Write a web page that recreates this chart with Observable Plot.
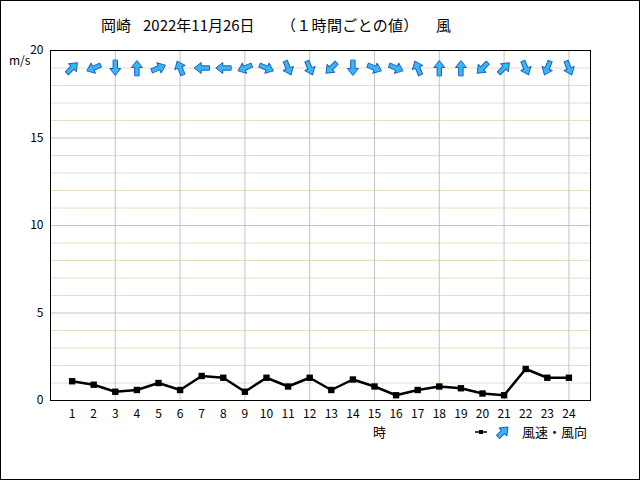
<!DOCTYPE html>
<html><head><meta charset="utf-8">
<script src="https://cdn.jsdelivr.net/npm/d3@7"></script>
<script src="https://cdn.jsdelivr.net/npm/@observablehq/plot@0.6"></script>
<style>
body{margin:0;background:#fff;}
#wrap{position:relative;width:640px;height:480px;overflow:hidden;font-family:"Noto Sans CJK JP",sans-serif;background:#fff;}
#border{position:absolute;left:0;top:0;width:640px;height:480px;box-sizing:border-box;border:1px solid #000;pointer-events:none;}
.lbl{position:absolute;white-space:pre;color:#000;line-height:1;}
.t{top:17px;font-size:15px;}
#chart{position:absolute;left:0;top:0;}
</style></head><body>
<div id="wrap">
  <div id="chart"></div>
  <div class="lbl t" id="title0" style="left:101px;"></div>
  <div class="lbl t" id="title1" style="left:143px;"></div>
  <div class="lbl t" id="title2" style="left:281px;letter-spacing:0.3px;"></div>
  <div class="lbl t" id="title3" style="left:436px;"></div>
  <div class="lbl" id="unit" style="left:9px;top:54px;font-size:12px;"></div>
  <div class="lbl" id="xlabel" style="left:373px;top:425px;font-size:13px;"></div>
  <svg style="position:absolute;left:470px;top:422px;" width="50" height="20">
    <line x1="5" y1="10" x2="17" y2="10" stroke="#000" stroke-width="1.5"/>
    <rect x="9" y="8" width="4" height="4" fill="#000"/>
    <path id="legArrow" fill="#38b6f2" stroke="#1a5fc8" stroke-width="1" stroke-linejoin="round"/>
  </svg>
  <div class="lbl" id="legend" style="left:522px;top:425px;font-size:13px;"></div>
  <div id="border"></div>
</div>
<script>
const titleParts = ["岡崎", "2022年11月26日", "（１時間ごとの値）", "風"];
const unitText = "m/s";
const xLabelText = "時";
const legendText = "風速・風向";

const hours = [1,2,3,4,5,6,7,8,9,10,11,12,13,14,15,16,17,18,19,20,21,22,23,24];
const speeds = [1.1,0.9,0.5,0.6,1.0,0.6,1.4,1.3,0.5,1.3,0.8,1.3,0.6,1.2,0.8,0.3,0.6,0.8,0.7,0.4,0.3,1.8,1.3,1.3];
// direction the arrow points, degrees clockwise from north
const directions = [45,247.5,180,0,67.5,337.5,270,270,247.5,112.5,157.5,157.5,225,180,112.5,112.5,337.5,0,0,225,45,157.5,202.5,157.5];
const yTicks = [0,5,10,15,20];
const majorY = [5,10,15];
const minorY = [1,2,3,4,6,7,8,9,11,12,13,14,16,17,18,19];
const majorX = [3,6,9,12,15,18,21,24];
const arrowRow = 19;

const data = hours.map((h,i)=>({hour:h, speed:speeds[i], dir:directions[i]}));

function arrowPath(ctx, l){
  const hw = 2.2, hh = 5.5, hl = 7;
  ctx.moveTo(-hw, 0);
  ctx.lineTo(-hw, -l + hl);
  ctx.lineTo(-hh, -l + hl);
  ctx.lineTo(0, -l);
  ctx.lineTo(hh, -l + hl);
  ctx.lineTo(hw, -l + hl);
  ctx.lineTo(hw, 0);
  ctx.closePath();
}
const blockArrow = { draw(context, l, r){ arrowPath(context, l); } };

const chart = Plot.plot({
  width: 640, height: 480,
  marginTop: 50, marginRight: 50, marginBottom: 80, marginLeft: 50,
  style: {fontFamily: '"Noto Sans CJK JP", sans-serif', fontSize: "12px", background: "transparent"},
  x: {domain: [0, 25]},
  y: {domain: [0, 20]},
  marks: [
    Plot.ruleY(minorY, {stroke: "#e8dfc2", strokeWidth: 1}),
    Plot.ruleY(majorY, {stroke: "#c4c4c4", strokeWidth: 1}),
    Plot.ruleX(majorX, {stroke: "#c4c4c4", strokeWidth: 1}),
    Plot.frame({stroke: "#000", strokeWidth: 1}),
    Plot.axisX(hours, {tickSize: 0, tickPadding: 9, label: null, fontSize: 12}),
    Plot.axisY(yTicks, {tickSize: 0, tickPadding: 7, label: null, fontSize: 12}),
    Plot.vector(data, {x: "hour", y: () => arrowRow, rotate: "dir", length: 15, anchor: "middle",
      shape: blockArrow, fill: "#38b6f2", stroke: "#1a5fc8", strokeWidth: 1}),
    Plot.line(data, {x: "hour", y: "speed", stroke: "#000", strokeWidth: 2.5}),
    Plot.dot(data, {x: "hour", y: "speed", symbol: "square", r: 3.6, fill: "#000", stroke: "none"})
  ]
});
document.getElementById("chart").appendChild(chart);
titleParts.forEach((t,i)=>{ document.getElementById("title"+i).textContent = t; });
document.getElementById("unit").textContent = unitText;
document.getElementById("xlabel").textContent = xLabelText;
document.getElementById("legend").textContent = legendText;
// legend arrow
const p = d3.path();
arrowPath(p, 14);
const la = document.getElementById("legArrow");
la.setAttribute("d", p.toString());
la.setAttribute("transform", "translate(33,10) rotate(45) translate(0,7)");
</script>
</body></html>
